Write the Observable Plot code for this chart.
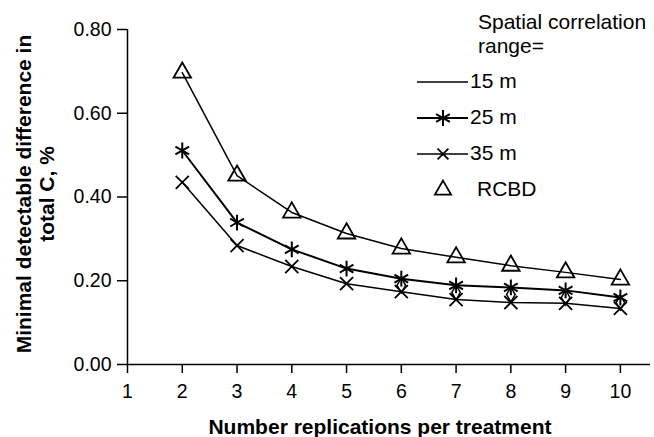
<!DOCTYPE html>
<html><head><meta charset="utf-8">
<script src="https://cdn.jsdelivr.net/npm/d3@7"></script>
<script src="https://cdn.jsdelivr.net/npm/@observablehq/plot@0.6"></script>
<style>
body{margin:0;background:#fff;}
#wrap{position:relative;width:654px;height:437px;}
#wrap svg{position:absolute;left:0;top:0;}
</style>
</head><body><div id="wrap"></div>
<script>
const reps = [2, 3, 4, 5, 6, 7, 8, 9, 10];
const range15 = [0.697, 0.451, 0.363, 0.313, 0.277, 0.256, 0.236, 0.220, 0.203];
const range25 = [0.511, 0.339, 0.275, 0.229, 0.205, 0.189, 0.184, 0.177, 0.160];
const range35 = [0.435, 0.284, 0.234, 0.193, 0.174, 0.155, 0.148, 0.146, 0.134];
const rcbd    = [0.697, 0.451, 0.363, 0.313, 0.277, 0.256, 0.236, 0.220, 0.203];
const extraReps = [6, 7, 8, 9, 10];
const extraVals = [0.189, 0.172, 0.167, 0.160, 0.148];
const xTicks = [1, 2, 3, 4, 5, 6, 7, 8, 9, 10];
const yTicks = [0, 0.2, 0.4, 0.6, 0.8];
const legendTitle = ["Spatial correlation", "range="];
const legendLabels = ["15 m", "25 m", "35 m", "RCBD"];
const xTitle = "Number replications per treatment";
const yTitle = ["Minimal detectable difference in", "total C, %"];

const font = "'Liberation Sans', Arial, Helvetica, sans-serif";
const rows = (xs, vals) => vals.map((v, i) => ({rep: xs[i], v}));
const d15 = rows(reps, range15), d25 = rows(reps, range25), d35 = rows(reps, range35);
const dR = rows(reps, rcbd), dE = rows(extraReps, extraVals);

const plot = Plot.plot({
  width: 654, height: 437,
  marginLeft: 127, marginRight: 4, marginTop: 29, marginBottom: 73,
  style: {fontFamily: font, fontSize: "19.5px", color: "#000", background: "#fff", overflow: "visible"},
  x: {domain: [1, 10.55]},
  y: {domain: [0, 0.8]},
  marks: [
    Plot.axisX({ticks: xTicks, tickSize: 9, tickPadding: 11, tickFormat: "d", label: null, strokeWidth: 1.5}),
    Plot.axisY({ticks: yTicks, tickSize: 10, tickPadding: 6, tickFormat: ".2f", label: null, strokeWidth: 1.5}),
    Plot.ruleX([1], {stroke: "#000", strokeWidth: 1.5}),
    Plot.ruleY([0], {stroke: "#000", strokeWidth: 1.5}),
    Plot.line(d15, {x: "rep", y: "v", stroke: "#000", strokeWidth: 1.5}),
    Plot.line(d25, {x: "rep", y: "v", stroke: "#000", strokeWidth: 2}),
    Plot.line(d35, {x: "rep", y: "v", stroke: "#000", strokeWidth: 1.5}),
    Plot.dot(dE, {x: "rep", y: "v", symbol: "diamond", r: 4.5, stroke: "#000", strokeWidth: 1.5, fill: "none"}),
    Plot.dot(d25, {x: "rep", y: "v", symbol: "asterisk", r: 7.5, stroke: "#000", strokeWidth: 2}),
    Plot.dot(d35, {x: "rep", y: "v", symbol: "times", r: 6, stroke: "#000", strokeWidth: 1.8}),
    Plot.dot(dR, {x: "rep", y: "v", symbol: "triangle", r: 6.5, stroke: "#000", strokeWidth: 1.8, fill: "none"})
  ]
});
document.getElementById("wrap").appendChild(plot);

// overlay: axis titles and legend
const svg = d3.select("#wrap").append("svg")
  .attr("width", 654).attr("height", 437)
  .style("font-family", font).style("overflow", "visible");

svg.append("text").attr("x", 380).attr("y", 428).attr("text-anchor", "middle")
  .attr("dominant-baseline", "middle").attr("font-weight", "bold").attr("font-size", 21)
  .text(xTitle);

const yt = svg.append("text").attr("transform", "translate(0,194) rotate(-90)")
  .attr("text-anchor", "middle").attr("font-weight", "bold").attr("font-size", 21);
yTitle.forEach((t, i) => yt.append("tspan").attr("x", 0).attr("y", 25 + i * 23)
  .attr("dominant-baseline", "middle").text(t));

legendTitle.forEach((t, i) => svg.append("text").attr("x", 478).attr("y", 23 + i * 24)
  .attr("dominant-baseline", "middle").attr("font-size", 21).text(t));

const ly = [82, 118, 154, 190];
legendLabels.forEach((t, i) => {
  const g = svg.append("g");
  if (i < 3) g.append("line").attr("x1", 417).attr("x2", 468).attr("y1", ly[i]).attr("y2", ly[i])
    .attr("stroke", "#000").attr("stroke-width", i === 1 ? 2 : 1.5);
  if (i === 1) g.append("path").attr("transform", `translate(443,${ly[i]})`)
    .attr("d", d3.symbol(d3.symbolAsterisk, 7.5 * 7.5 * Math.PI)())
    .attr("stroke", "#000").attr("stroke-width", 2).attr("fill", "none");
  if (i === 2) g.append("path").attr("transform", `translate(443,${ly[i]})`)
    .attr("d", d3.symbol(d3.symbolTimes, 5 * 5 * Math.PI)())
    .attr("stroke", "#000").attr("stroke-width", 1.8).attr("fill", "none");
  if (i === 3) g.append("path").attr("transform", `translate(443,${ly[i]})`)
    .attr("d", d3.symbol(d3.symbolTriangle, 6 * 6 * Math.PI)())
    .attr("stroke", "#000").attr("stroke-width", 1.8).attr("fill", "none");
  g.append("text").attr("x", i < 3 ? 470 : 477).attr("y", ly[i]).attr("dominant-baseline", "middle")
    .attr("font-size", 21).text(t);
});
</script>
</body></html>
